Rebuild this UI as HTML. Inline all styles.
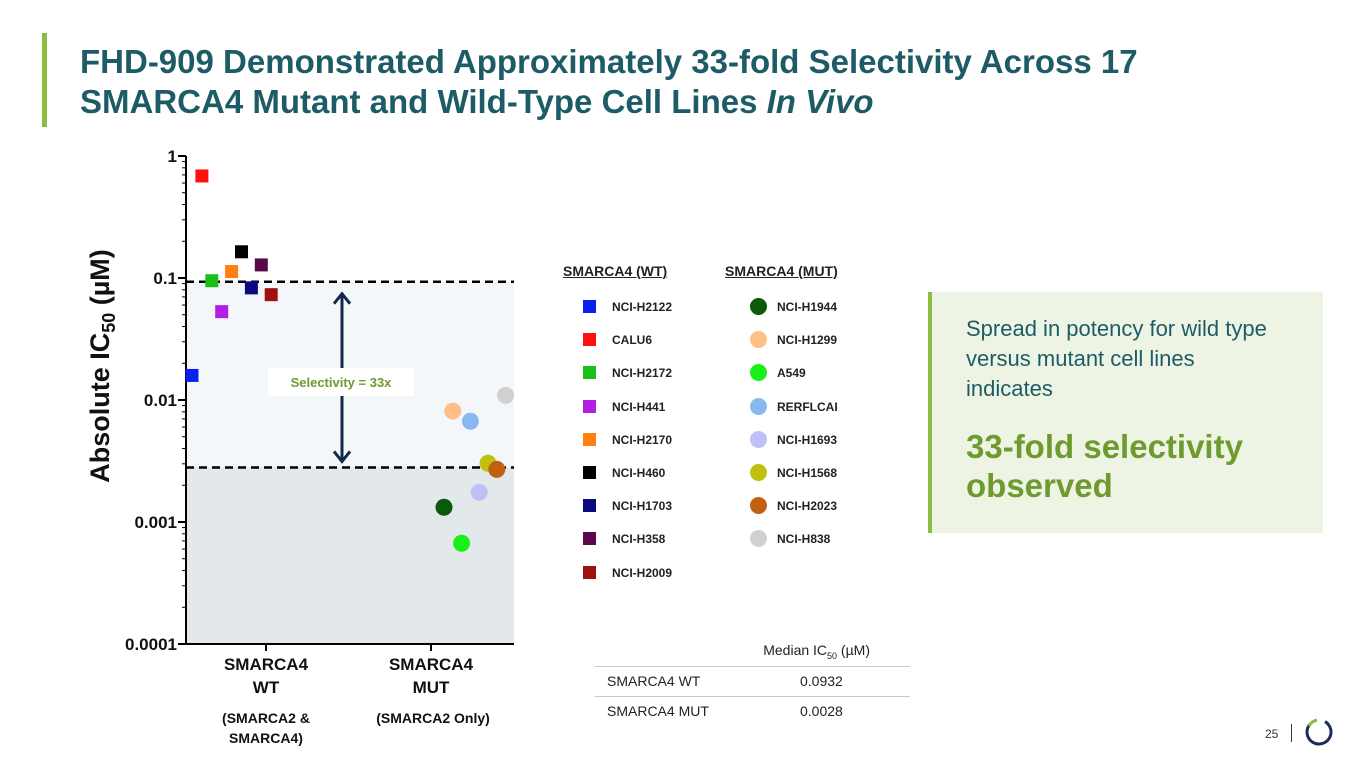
<!DOCTYPE html>
<html><head><meta charset="utf-8"><style>
body{margin:0;width:1365px;height:768px;background:#fff;font-family:"Liberation Sans",Arial,sans-serif;position:relative;overflow:hidden}
.abs{position:absolute}
h1{position:absolute;left:80px;top:42px;margin:0;font-size:33px;line-height:40px;color:#1d5c66;font-weight:bold;white-space:nowrap}
.leg{position:absolute;font-size:12px;font-weight:bold;color:#222}
</style></head><body>
<div class="abs" style="left:42px;top:33px;width:5px;height:94px;background:#8bbd3f"></div>
<h1>FHD-909 Demonstrated Approximately 33-fold Selectivity Across 17<br>SMARCA4 Mutant and Wild-Type Cell Lines <i>In Vivo</i></h1>

<svg class="abs" style="left:0;top:0" width="560" height="768">
<g id="g"></g>
</svg>

<div class="leg" style="left:563px;top:263px;font-size:14px;text-decoration:underline">SMARCA4 (WT)</div>
<div class="leg" style="left:725px;top:263px;font-size:14px;text-decoration:underline">SMARCA4 (MUT)</div>
<div id="legend"></div>

<div class="abs" style="left:928px;top:292px;width:395px;height:241px;background:#eef4e4;border-left:4px solid #8bbd3f;box-sizing:border-box">
 <div style="position:absolute;left:34px;top:22px;font-size:22px;line-height:30px;color:#1d5c66;width:305px">Spread in potency for wild type versus mutant cell lines indicates</div>
 <div style="position:absolute;left:34px;top:135px;font-size:33px;line-height:39px;color:#6e9a2e;font-weight:bold;width:360px">33-fold selectivity observed</div>
</div>

<div class="abs" style="left:595px;top:640px;width:315px;font-size:14px;color:#222">
 <div style="height:27px;border-bottom:1px solid #b9cfd6;text-align:right;padding-right:40px;box-sizing:border-box;line-height:20px">Median IC<sub style="font-size:9px">50</sub> (µM)</div>
 <div style="height:29px;border-bottom:1px solid #b9cfd6;line-height:29px;position:relative"><span style="margin-left:12px">SMARCA4 WT</span><span style="position:absolute;left:205px">0.0932</span></div>
 <div style="height:29px;line-height:29px;position:relative"><span style="margin-left:12px">SMARCA4 MUT</span><span style="position:absolute;left:205px">0.0028</span></div>
</div>

<div class="abs" style="left:1265px;top:727px;font-size:12px;color:#333">25</div>
<div class="abs" style="left:1291px;top:724px;width:1px;height:18px;background:#333"></div>
<svg class="abs" style="left:1303px;top:716px" width="32" height="32">
<circle cx="16" cy="16" r="12" fill="none" stroke="#1d2d5a" stroke-width="3" stroke-dasharray="58 100" transform="rotate(-60 16 16)"/>
<path d="M6 10 A12 12 0 0 1 14 4" fill="none" stroke="#8bbd3f" stroke-width="3"/>
</svg>

<script>
const wtNames=["NCI-H2122","CALU6","NCI-H2172","NCI-H441","NCI-H2170","NCI-H460","NCI-H1703","NCI-H358","NCI-H2009"];
const wtValues=[0.0159,0.686,0.095,0.053,0.113,0.164,0.083,0.128,0.073];
const wtColors=["#0a1ff0","#ff1010","#18c018","#b41ee0","#ff8010","#000000","#0a0a80","#5a0a4a","#a01010"];
const mutNames=["NCI-H1944","NCI-H1299","A549","RERFLCAI","NCI-H1693","NCI-H1568","NCI-H2023","NCI-H838"];
const mutValues=[0.00132,0.0081,0.00067,0.0067,0.00175,0.00303,0.0027,0.0109];
const mutColors=["#0a5a0a","#ffc088","#18f018","#88b8f0","#c0c0f8","#c0c010","#c06010","#d0d0d0"];
const medians=[0.0932,0.0028];
const yTicks=[1,0.1,0.01,0.001,0.0001];
const yTickLabels=["1","0.1","0.01","0.001","0.0001"];

const NS="http://www.w3.org/2000/svg";
const g=document.getElementById('g');
const X0=186,X1=514,YT=156,YB=644;
const y=v=>YT+(-Math.log10(v))*(YB-YT)/4;
const xWT=i=>192+i*9.9, xMUT=i=>444+i*8.8;
function el(t,a,p){const e=document.createElementNS(NS,t);for(const k in a)e.setAttribute(k,a[k]);(p||g).appendChild(e);return e;}
let bg1=el('rect',{x:X0,y:y(medians[0]),width:X1-X0,height:y(medians[1])-y(medians[0]),fill:'#f3f7fa'});


let bg2=el('rect',{x:X0,y:y(medians[1]),width:X1-X0,height:YB-y(medians[1]),fill:'#e3e8eb'});


let ax=el('line',{x1:X0,y1:YT,x2:X0,y2:YB,stroke:'#000','stroke-width':2});


el('line',{x1:X0,y1:YB,x2:X1,y2:YB,stroke:'#000','stroke-width':2});
[266,431].forEach(x=>el('line',{x1:x,y1:YB,x2:x,y2:YB+7,stroke:'#000','stroke-width':2}));
for(let d=0;d<4;d++){for(let m=2;m<10;m++){const v=Math.pow(10,-d-1)*m;el('line',{x1:X0-4,y1:y(v),x2:X0,y2:y(v),stroke:'#000','stroke-width':1});}}
yTicks.forEach((v,i)=>{el('line',{x1:X0-8,y1:y(v),x2:X0,y2:y(v),stroke:'#000','stroke-width':2});
 const t=el('text',{x:X0-9,y:y(v)+6,'text-anchor':'end','font-size':17,'font-weight':'bold',fill:'#111'});t.textContent=yTickLabels[i];
 
 });
const yt=el('text',{x:0,y:0,'text-anchor':'middle','font-size':27,'font-weight':'bold',fill:'#111',transform:'translate(109 366) rotate(-90)'});
yt.innerHTML='Absolute IC<tspan font-size="18" dy="6">50</tspan><tspan dy="-6"> (µM)</tspan>';


medians.forEach(m=>{const l=el('line',{x1:X0,y1:y(m),x2:X1,y2:y(m),stroke:'#000','stroke-width':2.5,'stroke-dasharray':'8 5'});
 
 });
const ay1=y(medians[0])+12,ay2=y(medians[1])-6;
el('line',{x1:342,y1:ay1,x2:342,y2:ay2,stroke:'#142848','stroke-width':3});
el('path',{d:`M334 ${ay1+10} L342 ${ay1} L350 ${ay1+10}`,fill:'none',stroke:'#142848','stroke-width':3});
el('path',{d:`M334 ${ay2-10} L342 ${ay2} L350 ${ay2-10}`,fill:'none',stroke:'#142848','stroke-width':3});
el('rect',{x:268,y:368,width:146,height:28,fill:'#fff'});
const sl=el('text',{x:341,y:387,'text-anchor':'middle','font-size':13,'font-weight':'bold',fill:'#6e9a2e'});sl.textContent='Selectivity = 33x';


wtValues.forEach((v,i)=>{const r=el('rect',{x:xWT(i)-6.5,y:y(v)-6.5,width:13,height:13,fill:wtColors[i]});
 
 });
mutValues.forEach((v,i)=>{const c=el('circle',{cx:xMUT(i),cy:y(v),r:8.5,fill:mutColors[i]});
 
 });
[[266,'SMARCA4','WT'],[431,'SMARCA4','MUT']].forEach(([x,a,b])=>{
 const t=el('text',{x:x,y:670,'text-anchor':'middle','font-size':17,'font-weight':'bold',fill:'#111'});t.textContent=a;
 
 
 const t2=el('text',{x:x,y:693,'text-anchor':'middle','font-size':17,'font-weight':'bold',fill:'#111'});t2.textContent=b;});
[[266,723,'(SMARCA2 &'],[266,743,'SMARCA4)'],[433,723,'(SMARCA2 Only)']].forEach(([x,yy,s])=>{
 const t=el('text',{x:x,y:yy,'text-anchor':'middle','font-size':14,'font-weight':'bold',fill:'#111'});t.textContent=s;
 
 });
const L=document.getElementById('legend');
wtNames.forEach((n,i)=>{const d=document.createElement('div');d.className='leg';d.style.left='583px';d.style.top=(300+i*33.2)+'px';
 d.innerHTML=`<span style="display:inline-block;width:13px;height:13px;background:${wtColors[i]};vertical-align:-2px;margin-right:16px"></span>${n}`;
 
 
 L.appendChild(d);});
mutNames.forEach((n,i)=>{const d=document.createElement('div');d.className='leg';d.style.left='750px';d.style.top=(298+i*33.2)+'px';
 d.innerHTML=`<span style="display:inline-block;width:17px;height:17px;border-radius:50%;background:${mutColors[i]};vertical-align:-4px;margin-right:10px"></span>${n}`;
 
 
 L.appendChild(d);});
</script>
</body></html>
